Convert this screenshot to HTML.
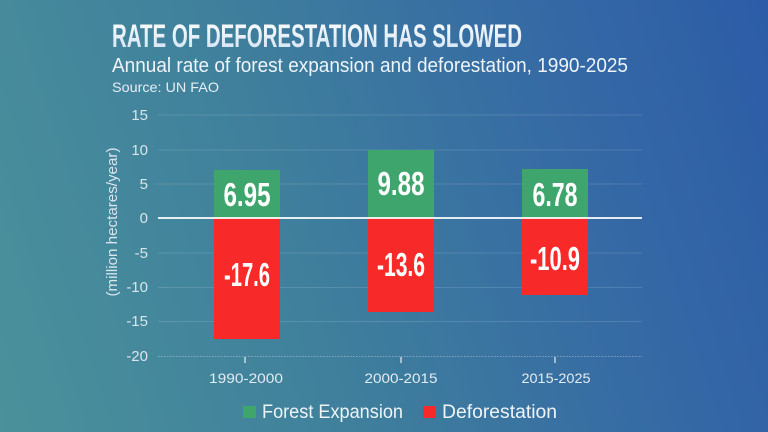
<!DOCTYPE html>
<html><head><meta charset="utf-8"><style>
html,body{margin:0;padding:0;}
body{width:768px;height:432px;overflow:hidden;background:linear-gradient(72deg,#4a919b 0%,#3f7f9c 40%,#3569a5 75%,#2c5ca7 100%);}
svg{display:block;}
text{font-family:"Liberation Sans",sans-serif;}
.n{font-family:"Liberation Sans Narrow","Liberation Sans",sans-serif;font-weight:bold;}
</style></head><body>
<svg width="768" height="432" viewBox="0 0 768 432" xmlns="http://www.w3.org/2000/svg">
<defs>
<linearGradient id="tg" x1="0" y1="0" x2="0" y2="1">
<stop offset="0" stop-color="#ffffff"/><stop offset="1" stop-color="#cfe1f2"/>
</linearGradient>
</defs>
<text class="n" x="112" y="47" font-size="32" fill="url(#tg)" textLength="410" lengthAdjust="spacingAndGlyphs">RATE OF DEFORESTATION HAS SLOWED</text>
<text x="112" y="72" font-size="20" fill="#eef4f8" textLength="516" lengthAdjust="spacingAndGlyphs">Annual rate of forest expansion and deforestation, 1990-2025</text>
<text x="112" y="92" font-size="14" fill="#e6eef4" textLength="107" lengthAdjust="spacingAndGlyphs">Source:  UN FAO</text>

<g stroke="#ffffff" stroke-opacity="0.13" stroke-width="1">
<line x1="158" y1="115" x2="642" y2="115"/>
<line x1="158" y1="150" x2="642" y2="150"/>
<line x1="158" y1="184" x2="642" y2="184"/>
<line x1="158" y1="253" x2="642" y2="253"/>
<line x1="158" y1="287.5" x2="642" y2="287.5"/>
<line x1="158" y1="321.5" x2="642" y2="321.5"/>
</g>
<line x1="158" y1="356.5" x2="642" y2="356.5" stroke="#ffffff" stroke-opacity="0.35" stroke-width="1" stroke-dasharray="1.5,1.5"/>

<g font-size="15" fill="#d9e5ec" text-anchor="end">
<text x="148" y="120">15</text>
<text x="148" y="155">10</text>
<text x="148" y="189">5</text>
<text x="148" y="223">0</text>
<text x="148" y="258">-5</text>
<text x="148" y="292">-10</text>
<text x="148" y="326">-15</text>
<text x="148" y="361">-20</text>
</g>
<text transform="translate(117,222) rotate(-90)" font-size="15" fill="#d9e5ec" text-anchor="middle" textLength="149" lengthAdjust="spacingAndGlyphs">(million hectares/year)</text>

<g fill="#3ea66c">
<rect x="214" y="170" width="66" height="48"/>
<rect x="368" y="150" width="66" height="68"/>
<rect x="522" y="169" width="66" height="49"/>
</g>
<g fill="#f72929">
<rect x="214" y="218" width="66" height="121"/>
<rect x="368" y="218" width="66" height="94"/>
<rect x="522" y="218" width="66" height="77"/>
</g>
<line x1="158" y1="218" x2="642" y2="218" stroke="#ffffff" stroke-width="1.8"/>

<g class="n" font-size="33" fill="#ffffff" text-anchor="middle">
<text x="247" y="206" textLength="47" lengthAdjust="spacingAndGlyphs">6.95</text>
<text x="401" y="195" textLength="47" lengthAdjust="spacingAndGlyphs">9.88</text>
<text x="555" y="206" textLength="45" lengthAdjust="spacingAndGlyphs">6.78</text>
<text x="247" y="286" textLength="46" lengthAdjust="spacingAndGlyphs">-17.6</text>
<text x="401" y="276" textLength="48" lengthAdjust="spacingAndGlyphs">-13.6</text>
<text x="555" y="270" textLength="50" lengthAdjust="spacingAndGlyphs">-10.9</text>
</g>

<g stroke="#e6eef4" stroke-width="1.2">
<line x1="245" y1="357" x2="245" y2="363"/>
<line x1="401" y1="357" x2="401" y2="363"/>
<line x1="555" y1="357" x2="555" y2="363"/>
</g>
<g font-size="14" fill="#e3ecf2" text-anchor="middle">
<text x="246" y="383" textLength="74" lengthAdjust="spacingAndGlyphs">1990-2000</text>
<text x="401" y="383" textLength="73" lengthAdjust="spacingAndGlyphs">2000-2015</text>
<text x="556" y="383" textLength="69" lengthAdjust="spacingAndGlyphs">2015-2025</text>
</g>

<rect x="243" y="406" width="13" height="12" fill="#3ea66c"/>
<text x="262" y="418" font-size="19" fill="#eef4f8" textLength="141" lengthAdjust="spacingAndGlyphs">Forest Expansion</text>
<rect x="423" y="406" width="13" height="12" fill="#f72929"/>
<text x="442" y="418" font-size="19" fill="#eef4f8" textLength="115" lengthAdjust="spacingAndGlyphs">Deforestation</text>
</svg>
</body></html>
